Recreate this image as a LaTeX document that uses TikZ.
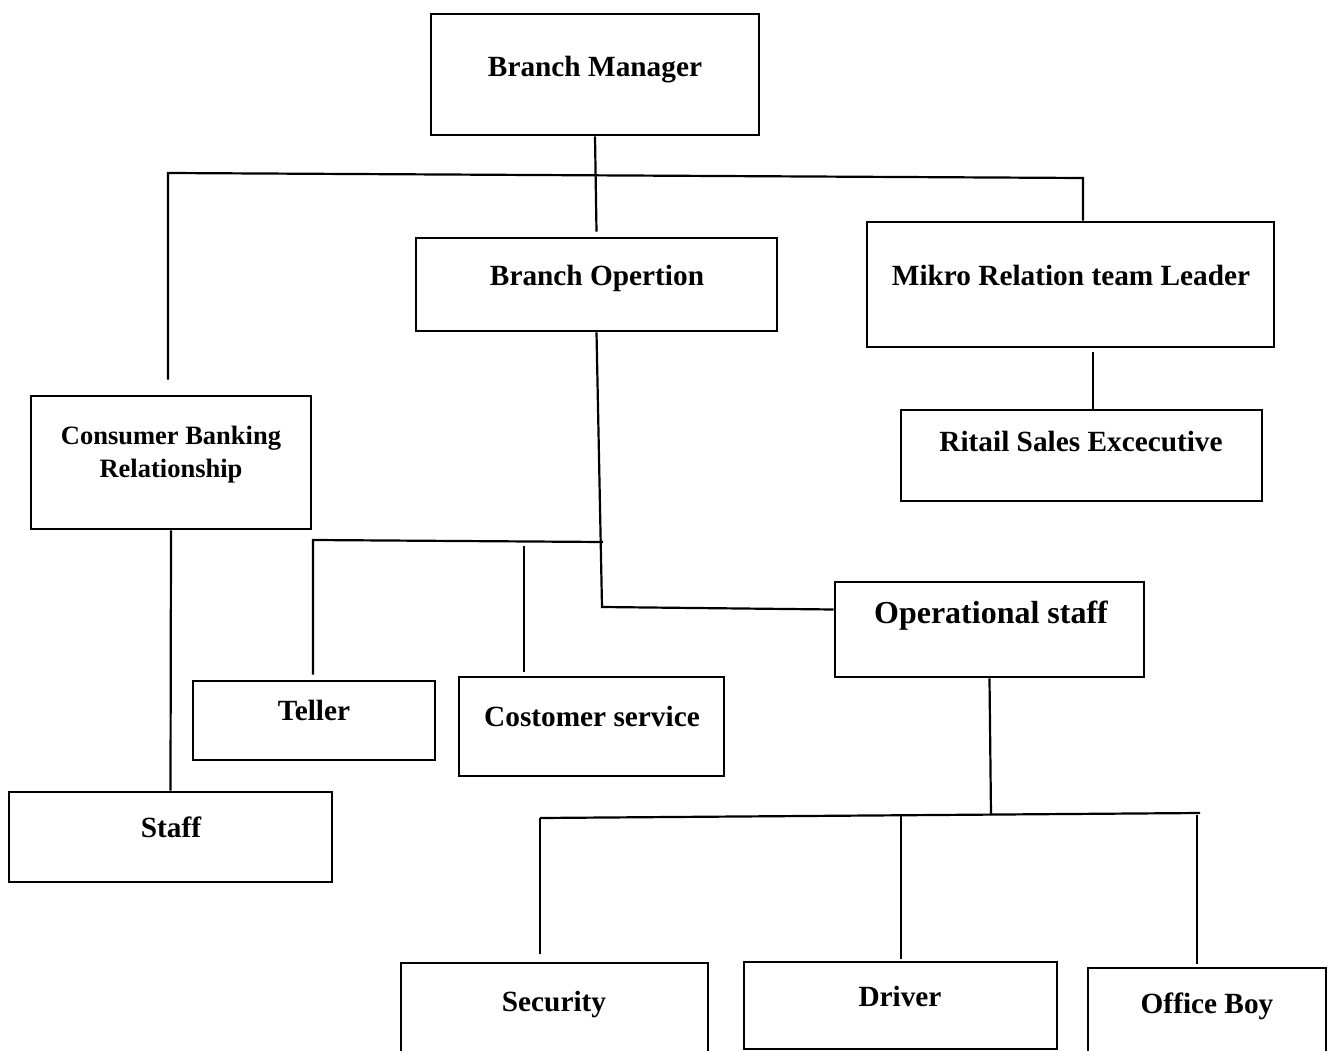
\documentclass[tikz,border=0pt]{standalone}
\usepackage{fontspec}
\setmainfont{Liberation Serif}
\usetikzlibrary{positioning}

\begin{document}
\begin{tikzpicture}[
    x=1pt, y=-1pt,
    box/.style={draw, rectangle, line width=2.8pt, inner sep=0pt},
    lbl/.style={anchor=base, inner sep=0pt, font=\bfseries\fontsize{29.3}{33}\selectfont},
    link/.style={draw, line width=2.2pt},
]
\useasboundingbox (0,0) rectangle (1331,1051);
\clip (0,0) rectangle (1331,1051);

% Branch manager
\node[box, minimum width=328pt, minimum height=121pt] (bm) at (595,74.5) {};
\node[lbl] (bm-t) at (595,77) {Branch Manager};

% Second level
\node[box, minimum width=361pt, minimum height=93pt] (bo) at (596.5,284.5) {};
\node[lbl] (bo-t) at (597,285) {Branch Opertion};
\node[box, minimum width=407pt, minimum height=125pt] (mr) at (1070.5,284.5) {};
\node[lbl] (mr-t) at (1071,285) {Mikro Relation team Leader};
\node[box, minimum width=280pt, minimum height=133pt] (cb) at (171,462.5) {};
\node[lbl, align=center, font=\bfseries\fontsize{26.5}{32.5}\selectfont] (cb-t) at (171,477) {Consumer Banking\\Relationship};

% Ritail sales
\node[box, minimum width=361pt, minimum height=91pt] (rs) at (1081.5,455.5) {};
\node[lbl] (rs-t) at (1081,451) {Ritail Sales Excecutive};

% Operational staff
\node[box, minimum width=309pt, minimum height=95pt] (os) at (989.5,629.5) {};
\node[lbl, font=\bfseries\fontsize{32}{36}\selectfont] (os-t) at (991,623) {Operational staff};

% Front office
\node[box, minimum width=242pt, minimum height=79pt] (te) at (314,720.5) {};
\node[lbl] (te-t) at (314,720) {Teller};
\node[box, minimum width=265pt, minimum height=99pt] (cs) at (591.5,726.5) {};
\node[lbl] (cs-t) at (592,726) {Costomer service};
\node[box, minimum width=323pt, minimum height=90pt] (st) at (170.5,837) {};
\node[lbl] (st-t) at (171,837) {Staff};

% Bottom row
\node[box, minimum width=307pt, minimum height=110pt] (se) at (554.5,1018) {};
\node[lbl] (se-t) at (554,1011) {Security};
\node[box, minimum width=313pt, minimum height=87pt] (dr) at (900.5,1005.5) {};
\node[lbl] (dr-t) at (900,1006) {Driver};
\node[box, minimum width=238pt, minimum height=110pt] (ob) at (1207,1023) {};
\node[lbl] (ob-t) at (1207,1013) {Office Boy};

% Junction points
\coordinate (barL) at (168,173);
\coordinate (barR) at (1083,178);
\coordinate (opcorner) at (602,607);
\coordinate (tbarL) at (313,540);
\coordinate (tbarR) at (603,542);
\coordinate (csTop) at (524,546);
\coordinate (rsLink) at (1093,352);
\coordinate (botJ) at (991,815);
\coordinate (botL) at (540,818);
\coordinate (botR) at (1200,813);
\coordinate (drTop) at (901,816);
\coordinate (obTop) at (1197,815);

% Connectors
\draw[link] (bm.south) -- ([yshift=5pt]bo.north);
\draw[link] ([yshift=15pt]cb.north -| barL) -- (barL) -- (barR) -- (barR |- mr.north);
\draw[link] (rsLink) -- (rsLink |- rs.north);
\draw[link] (bo.south) -- (opcorner) -- ([yshift=20pt]os.west);
\draw[link] ([yshift=5pt]te.north -| tbarL) -- (tbarL) -- (tbarR);
\draw[link] (csTop) -- ([yshift=4pt]cs.north -| csTop);
\draw[link] (cb.south) -- (st.north);
\draw[link] (os.south) -- (botJ);
\draw[link] (botL) -- (botR);
\draw[link] (botL) -- ([yshift=8pt]se.north -| botL);
\draw[link] (drTop) -- ([yshift=2pt]dr.north -| drTop);
\draw[link] (obTop) -- ([yshift=3pt]ob.north -| obTop);

\end{tikzpicture}
\end{document}
